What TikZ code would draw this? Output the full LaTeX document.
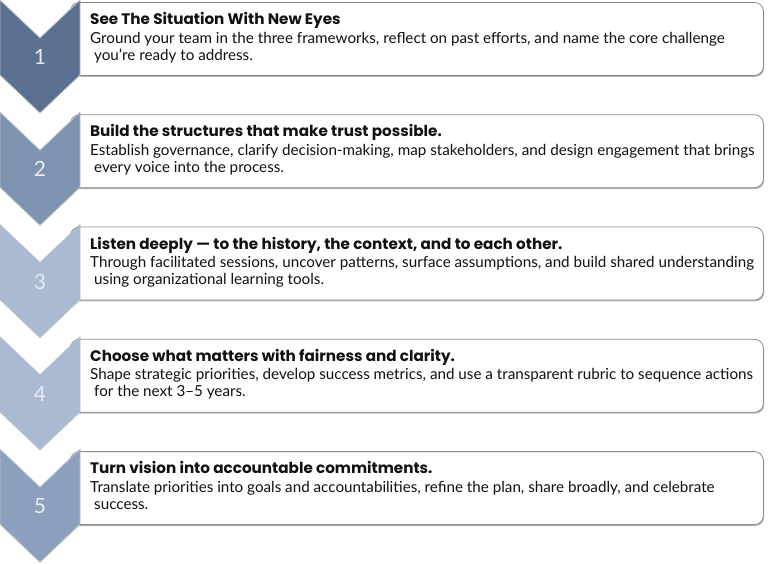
\documentclass[tikz,border=0pt]{standalone}
\usepackage{fontspec}
\setmainfont{Lato}
\newfontfamily\titlefont{Poppins}
\usetikzlibrary{shadows}
\definecolor{cA}{HTML}{5B7090}
\definecolor{cB}{HTML}{7E93B0}
\definecolor{cC}{HTML}{A9BAD2}
\definecolor{cD}{HTML}{A9BAD2}
\definecolor{cE}{HTML}{8CA0BE}
\definecolor{chevedge}{HTML}{B8BEC8}
\definecolor{boxedge}{HTML}{8A8A8A}
\definecolor{numcol}{HTML}{E8ECF2}
\definecolor{txt}{HTML}{111111}
\tikzset{
  boxsty/.style={draw=boxedge, fill=white, rounded corners=9pt, line width=0.8pt, inner sep=0pt,
    drop shadow={shadow xshift=0.8pt, shadow yshift=-1.4pt, opacity=0.3, fill=black}},
  chevsty/.style={draw=chevedge, line width=0.8pt, line join=miter},
  numsty/.style={text=numcol, font=\fontsize{21}{24}\selectfont, inner sep=0pt},
  titlesty/.style={text=txt, font=\titlefont\bfseries\fontsize{15.2}{18}\selectfont, inner sep=0pt, text depth=0pt},
  bodysty/.style={text=txt, font=\fontsize{15.2}{18}\selectfont, inner sep=0pt, text height=7pt, text depth=1pt},
}
\newcommand\chevrow[5]{%
  \pgfmathsetmacro\tp{(#1-1)*112.3}%
  \node[boxsty, minimum width=693pt, minimum height=73pt, anchor=north west] (box#1) at (70,\tp+2) {};
  \filldraw[chevsty, fill=#2] (0,\tp) -- (40,\tp+38) -- (80,\tp) -- (80,\tp+75) -- (40,\tp+113) -- (0,\tp+75) -- cycle;
  \node[numsty] (num#1) at (40,\tp+57) {#1};
  \node[titlesty, anchor=base west] (title#1) at (90,\tp+24.5) {#3};
  \node[bodysty, anchor=base west] (bodya#1) at (90,\tp+43) {#4};
  \node[bodysty, anchor=base west] (bodyb#1) at (94,\tp+60) {#5};
}
\begin{document}
\begin{tikzpicture}[x=1pt, y=-1pt]
\useasboundingbox (0,0) rectangle (768,563);
\chevrow{1}{cA}{See The Situation With New Eyes}{Ground your team in the three frameworks, reflect on past efforts, and name the core challenge}{you’re ready to address.}
\chevrow{2}{cB}{Build the structures that make trust possible.}{Establish governance, clarify decision-making, map stakeholders, and design engagement that brings}{every voice into the process.}
\chevrow{3}{cC}{Listen deeply — to the history, the context, and to each other.}{Through facilitated sessions, uncover patterns, surface assumptions, and build shared understanding}{using organizational learning tools.}
\chevrow{4}{cD}{Choose what matters with fairness and clarity.}{Shape strategic priorities, develop success metrics, and use a transparent rubric to sequence actions}{for the next 3–5 years.}
\chevrow{5}{cE}{Turn vision into accountable commitments.}{Translate priorities into goals and accountabilities, refine the plan, share broadly, and celebrate}{success.}
\end{tikzpicture}
\end{document}
